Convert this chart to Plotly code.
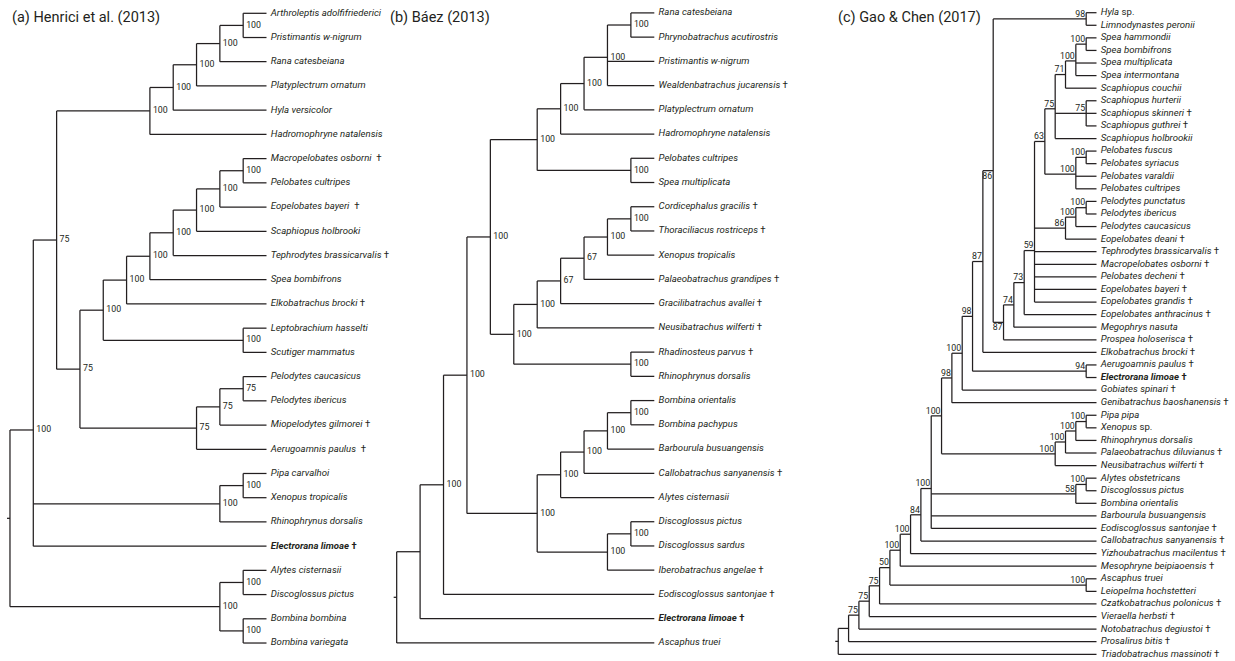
import plotly.graph_objects as go

# ---------------- data: trees (Newick, internal labels = support) ----------------
TREE_A = ("((((((((Arthroleptis adolfifriederici,Pristimantis w-nigrum)100,Rana catesbeiana)100,"
          "Platyplectrum ornatum)100,Hyla versicolor)100,Hadromophryne natalensis)100,"
          "((((((((Macropelobates osborni  †,Pelobates cultripes)100,Eopelobates bayeri  †)100,"
          "Scaphiopus holbrooki)100,Tephrodytes brassicarvalis †)100,Spea bombifrons)100,"
          "Elkobatrachus brocki †)100,(Leptobrachium hasselti,Scutiger mammatus)100)100,"
          "(((Pelodytes caucasicus,Pelodytes ibericus)75,Miopelodytes gilmorei †)75,"
          "Aerugoamnis paulus  †)75)75)75,"
          "((Pipa carvalhoi,Xenopus tropicalis)100,Rhinophrynus dorsalis)100,"
          "Electrorana limoae †)100,"
          "((Alytes cisternasii,Discoglossus pictus)100,(Bombina bombina,Bombina variegata)100)100);")

TREE_B = ("((((((((((Rana catesbeiana,Phrynobatrachus acutirostris)100,Pristimantis w-nigrum,"
          "Wealdenbatrachus jucarensis †)100,Platyplectrum ornatum)100,Hadromophryne natalensis)100,"
          "(Pelobates cultripes,Spea multiplicata)100)100,"
          "((((((Cordicephalus gracilis †,Thoraciliacus rostriceps †)100,Xenopus tropicalis)100,"
          "Palaeobatrachus grandipes †)67,Gracilibatrachus avallei †)67,Neusibatrachus wilferti †)100,"
          "(Rhadinosteus parvus †,Rhinophrynus dorsalis)100)100)100,"
          "(((((Bombina orientalis,Bombina pachypus)100,Barbourula busuangensis)100,"
          "Callobatrachus sanyanensis †)100,Alytes cisternasii)100,"
          "((Discoglossus pictus,Discoglossus sardus)100,Iberobatrachus angelae †)100)100)100,"
          "Eodiscoglossus santonjae †)100,Electrorana limoae †),Ascaphus truei);")

TREE_C = ("(((((((((((((((((Hyla sp.,Limnodynastes peronii)98,"
          "(((((((((Spea hammondii,Spea bombifrons)100,Spea multiplicata,Spea intermontana)100,"
          "Scaphiopus couchii)71,(Scaphiopus hurterii,Scaphiopus skinneri †,Scaphiopus guthrei †)75,"
          "Scaphiopus holbrookii)75,((Pelobates fuscus,Pelobates syriacus)100,Pelobates varaldii,"
          "Pelobates cultripes)100)63,(((Pelodytes punctatus,Pelodytes ibericus)100,"
          "Pelodytes caucasicus)100,Eopelobates deani †)86,Tephrodytes brassicarvalis †,"
          "Macropelobates osborni †,Pelobates decheni †,Eopelobates bayeri †,Eopelobates grandis †)59,"
          "Eopelobates anthracinus †)73,Megophrys nasuta)74,Prospea holoserisca †)87)86,"
          "Elkobatrachus brocki †)87,(Aerugoamnis paulus †,Electrorana limoae †)94)98,"
          "Gobiates spinari †)100,Genibatrachus baoshanensis †)98,"
          "((((Pipa pipa,Xenopus sp.)100,Rhinophrynus dorsalis)100,Palaeobatrachus diluvianus †)100,"
          "Neusibatrachus wilferti †)100)100,"
          "((Alytes obstetricans,Discoglossus pictus)100,Bombina orientalis)58,"
          "Barbourula busuangensis,Eodiscoglossus santonjae †)100,Callobatrachus sanyanensis †)84,"
          "Yizhoubatrachus macilentus †)100,Mesophryne beipiaoensis †)100,"
          "(Ascaphus truei,Leiopelma hochstetteri)100)50,Czatkobatrachus polonicus †)75,"
          "Vieraella herbsti †)75,Notobatrachus degiustoi †)75,Prosalirus bitis †),"
          "Triadobatrachus massinoti †);")

TITLES = ["(a) Henrici et al. (2013)", "(b) Báez (2013)", "(c) Gao & Chen (2017)"]
BOLD_TAXA = ["Electrorana limoae"]
LABEL_BELOW_C = ["Prospea holoserisca †"]   # clade (by last taxon) whose support sits under the branch

# ---------------- layout / style ----------------
W, H = 1235, 661
INK = "#231f20"
LEAF_FONT = dict(family="Roboto", size=9.6, color=INK)
SUP_FONT = dict(family="Roboto", size=8.8, color=INK)
# panel pixel geometry: tip x, step per level, first leaf y, leaf spacing, title x
PANELS = [
    dict(tree=TREE_A, tip=266.5, step=23.32, y0=13.3, dy=24.22, title_x=10, style="right"),
    dict(tree=TREE_B, tip=654.3, step=23.42, y0=12.9, dy=24.23, title_x=388, style="right"),
    dict(tree=TREE_C, tip=1096.5, step=10.33, y0=12.7, dy=12.58, title_x=836, style="above"),
]


def parse_newick(s):
    pos = 0

    def skip():
        nonlocal pos
        while pos < len(s) and s[pos] in " \n\t":
            pos += 1

    def node():
        nonlocal pos
        skip()
        if s[pos] == "(":
            pos += 1
            kids = [node()]
            skip()
            while pos < len(s) and s[pos] == ",":
                pos += 1
                kids.append(node())
                skip()
            pos += 1  # ')'
            start = pos
            while pos < len(s) and s[pos] not in ",);":
                pos += 1
            return {"kids": kids, "support": s[start:pos].strip()}
        start = pos
        while pos < len(s) and s[pos] not in ",);":
            pos += 1
        return {"name": s[start:pos].strip(), "kids": []}

    return node()


def layout_tree(root):
    leaves = []

    def walk(n):
        if not n["kids"]:
            n["y"] = float(len(leaves))
            n["h"] = 0
            n["last"] = n["name"]
            leaves.append(n)
            return
        for k in n["kids"]:
            walk(k)
        n["h"] = 1 + max(k["h"] for k in n["kids"])
        n["y"] = sum(k["y"] for k in n["kids"]) / len(n["kids"])
        n["last"] = n["kids"][-1]["last"]

    walk(root)

    def setx(n):
        n["x"] = -n["h"]
        for k in n["kids"]:
            setx(k)

    setx(root)
    return leaves


def fmt(name):
    dagger = name.endswith("†")
    wide = name.endswith("  †")
    base = name.rstrip("† ").strip()
    if base.endswith(" sp."):
        core = "<i>%s</i> sp." % base[:-4]
    else:
        core = "<i>%s</i>" % base
    if dagger:
        core += ("\u00a0 †" if wide else " †")
    if base in BOLD_TAXA:
        core = "<b>%s</b>" % core
    return core


fig = go.Figure()

for i, p in enumerate(PANELS):
    root = parse_newick(p["tree"])
    leaves = layout_tree(root)
    xs, ys = [], []
    sx, sy, st = [], [], []
    bx, by, bt = [], [], []

    def draw(n):
        if not n["kids"]:
            return
        xs.extend([n["x"], n["x"], None])
        ys.extend([n["kids"][0]["y"], n["kids"][-1]["y"], None])
        for k in n["kids"]:
            xs.extend([n["x"], k["x"], None])
            ys.extend([k["y"], k["y"], None])
            draw(k)
        if n["support"]:
            if p["style"] == "right":
                sx.append(n["x"] + 3.0 / p["step"])
                sy.append(n["y"])
                st.append(n["support"])
            elif n["last"] in LABEL_BELOW_C:
                bx.append(n["x"] - 1.0 / p["step"])
                by.append(n["y"] + 1.5 / p["dy"])
                bt.append(n["support"])
            else:
                sx.append(n["x"] - 1.0 / p["step"])
                sy.append(n["y"])
                st.append(n["support"])

    draw(root)
    stub = 3.0 / p["step"]
    xs.extend([root["x"] - stub, root["x"], None])
    ys.extend([root["y"], root["y"], None])

    ax = "" if i == 0 else str(i + 1)
    xa, ya = "x" + ax, "y" + ax
    fig.add_trace(go.Scatter(x=xs, y=ys, mode="lines", xaxis=xa, yaxis=ya,
                             line=dict(color=INK, width=1.25), hoverinfo="skip",
                             showlegend=False))
    fig.add_trace(go.Scatter(x=[0 + 4.3 / p["step"]] * len(leaves), y=[l["y"] for l in leaves],
                             text=[fmt(l["name"]) for l in leaves], mode="text",
                             textposition="middle right", textfont=LEAF_FONT,
                             xaxis=xa, yaxis=ya, hoverinfo="skip", showlegend=False,
                             cliponaxis=False))
    pos = "middle right" if p["style"] == "right" else "top left"
    fig.add_trace(go.Scatter(x=sx, y=sy, text=st, mode="text", textposition=pos,
                             textfont=SUP_FONT, xaxis=xa, yaxis=ya, hoverinfo="skip",
                             showlegend=False, cliponaxis=False))
    if bt:
        fig.add_trace(go.Scatter(x=bx, y=by, text=bt, mode="text", textposition="bottom left",
                                 textfont=SUP_FONT, xaxis=xa, yaxis=ya, hoverinfo="skip",
                                 showlegend=False, cliponaxis=False))

    xr = [-p["tip"] / p["step"], (W - p["tip"]) / p["step"]]
    yr = [(H - p["y0"]) / p["dy"], -p["y0"] / p["dy"]]
    axis_common = dict(visible=False, showgrid=False, zeroline=False, fixedrange=True)
    fig.layout["xaxis" + ax] = dict(domain=[0, 1], range=xr, anchor=ya, **axis_common)
    fig.layout["yaxis" + ax] = dict(domain=[0, 1], range=yr, anchor=xa, **axis_common)

    fig.add_annotation(text=TITLES[i], xref="paper", yref="paper",
                       x=p["title_x"] / W, y=1 - 17.0 / H, xanchor="left", yanchor="middle",
                       showarrow=False, font=dict(family="Roboto", size=14.5, color=INK))

fig.update_layout(width=W, height=H, margin=dict(l=0, r=0, t=0, b=0),
                  paper_bgcolor="white", plot_bgcolor="rgba(0,0,0,0)")
fig.write_html("out.html", config={"displayModeBar": False},
               post_script="document.body.style.margin='0';")
